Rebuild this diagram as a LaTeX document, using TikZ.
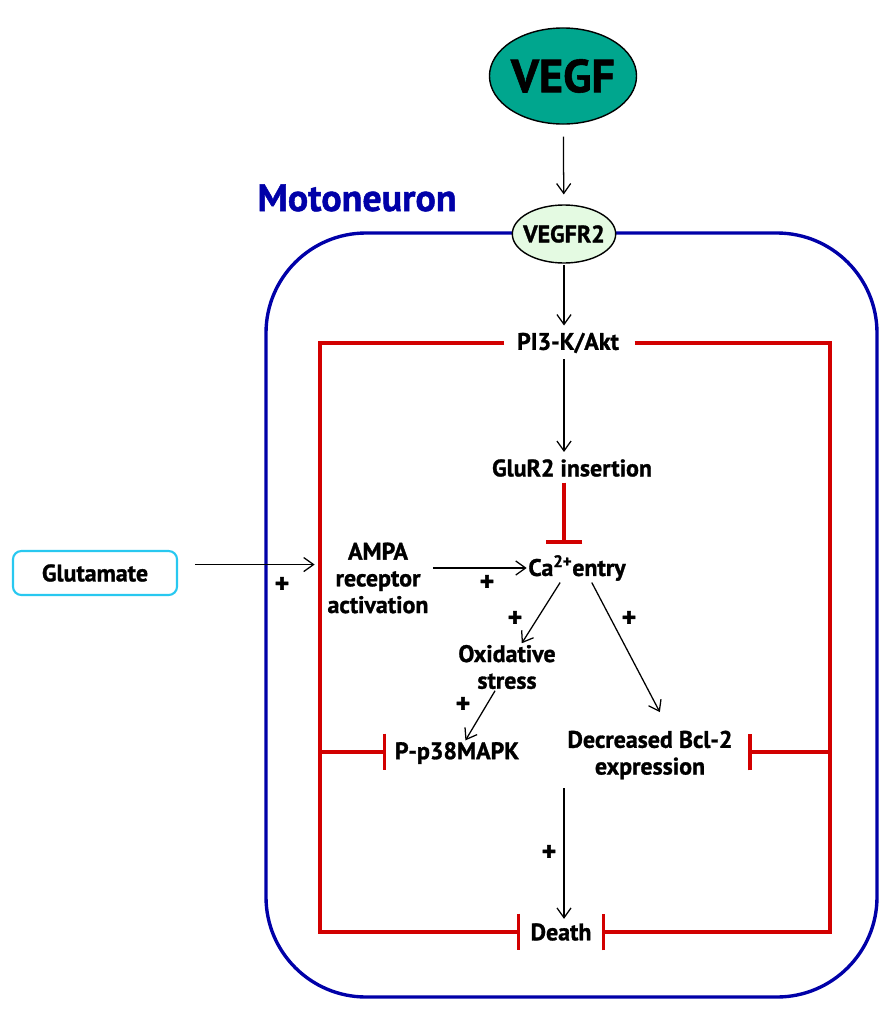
\documentclass[tikz,border=0pt]{standalone}
\usepackage{fontspec}
\setmainfont{PT Sans}[BoldFeatures={FakeBold=1.2}]
\usetikzlibrary{shapes.geometric,arrows.meta,positioning}
\definecolor{vegfteal}{RGB}{0,166,142}
\definecolor{rcptgreen}{RGB}{228,250,226}
\definecolor{cellblue}{RGB}{0,0,168}
\definecolor{inhred}{RGB}{210,0,0}
\definecolor{glucyan}{RGB}{40,200,240}

\tikzset{
	lbl/.style={font=\bfseries\fontsize{17}{19}\selectfont,align=center,inner sep=1pt},
	plus/.style={font=\bfseries\fontsize{20}{20}\selectfont,inner sep=0pt},
	act/.style={-{Straight Barb[length=7pt,width=10pt]},line width=0.9pt},
	inh/.style={-{Bar[width=26pt]},draw=inhred,line width=2.3pt}
}

\begin{document}
\begin{tikzpicture}[x=0.025cm,y=-0.025cm]
	\useasboundingbox (0,0) rectangle (892,1013);
	\draw[cellblue,line width=2.4pt,rounded corners=2.5cm] (266,233) rectangle (877,997);
	\node[text=cellblue,font=\bfseries\fontsize{27}{30}\selectfont] (moto) at (357,198) {Motoneuron};
	\node[ellipse,draw,line width=1pt,fill=vegfteal,minimum width=3.4cm,minimum height=2.4cm,inner sep=0pt,
		font=\bfseries\fontsize{33}{35}\selectfont] (vegf) at (563,76) {VEGF};
	\node[ellipse,draw,line width=1pt,fill=rcptgreen,minimum width=2.5cm,minimum height=1.45cm,
		font=\bfseries\fontsize{17}{19}\selectfont,inner xsep=-3pt,inner ysep=0pt] (vegfr) at (564,234) {VEGFR2};
	\node[lbl] (pik) at (568,343) {PI3-K/Akt};
	\node[lbl] (glur) at (572,468) {GluR2 insertion};
	\node[lbl] (ca) at (577,568) {Ca\textsuperscript{2+}entry};
	\node[lbl] (ampa) at (378,578) {AMPA\\receptor\\activation};
	\node[lbl,draw=glucyan,line width=1.5pt,rounded corners=6pt,minimum width=4.1cm,minimum height=1.1cm] (glut) at (95,573) {Glutamate};
	\node[lbl] (ox) at (507,667) {Oxidative\\stress};
	\node[lbl] (pmapk) at (457,753) {P-p38MAPK};
	\node[lbl] (bcl) at (650,755) {Decreased Bcl-2\\expression};
	\node[lbl] (death) at (561,932) {Death};
	\node[plus] (p1) at (282,585) {+};
	\node[plus] (p2) at (487,583) {+};
	\node[plus] (p3) at (515,619) {+};
	\node[plus] (p4) at (463,705) {+};
	\node[plus] (p5) at (629,619) {+};
	\node[plus] (p6) at (549,853) {+};
	\coordinate (lcorner) at (320,932);
	\coordinate (rcorner) at (830,932);
	\coordinate (lmid) at (320,752);
	\coordinate (rmid) at (830,752);
	\draw[act,shorten <=8.5pt,shorten >=7pt] (vegf) -- (vegfr);
	\draw[act,shorten <=1pt,shorten >=4pt] (vegfr.south) -- (vegfr.south |- pik.north);
	\draw[act,shorten <=3pt,shorten >=4pt] (pik.south -| vegfr.south) -- (glur.north -| vegfr.south);
	\draw[inh,shorten <=3pt,shorten >=7pt] (glur.south -| vegfr.south) -- (ca.north -| vegfr.south);
	\draw[act,shorten <=12pt,shorten >=8pt] ([yshift=6pt]glut.east) -- ([yshift=6pt]glut.east -| ampa.west);
	\draw[act,shorten <=2pt] (ampa.east |- ca.west) -- (ca.west);
	\draw[act] ([xshift=-12pt]ca.south) -- ([xshift=10.5pt]ox.north);
	\draw[act] ([xshift=-8.5pt]ox.south) -- ([xshift=6pt]pmapk.north);
	\draw[act] ([xshift=10.5pt]ca.south) -- ([xshift=7pt,yshift=12pt]bcl.north);
	\draw[act,shorten <=5pt,shorten >=2pt] (bcl.south -| vegfr.south) -- (death.north -| vegfr.south);
	\draw[inh,shorten <=8pt,shorten >=6pt] (pik.west) -| (lcorner) -- (death.west);
	\draw[inh,shorten <=10pt,shorten >=6pt] (pik.east) -| (rcorner) -- (death.east);
	\draw[inh,shorten >=5pt] (lmid) -- (pmapk.west |- lmid);
	\draw[inh,shorten >=10pt] (rmid) -- (rmid -| bcl.east);
\end{tikzpicture}
\end{document}
